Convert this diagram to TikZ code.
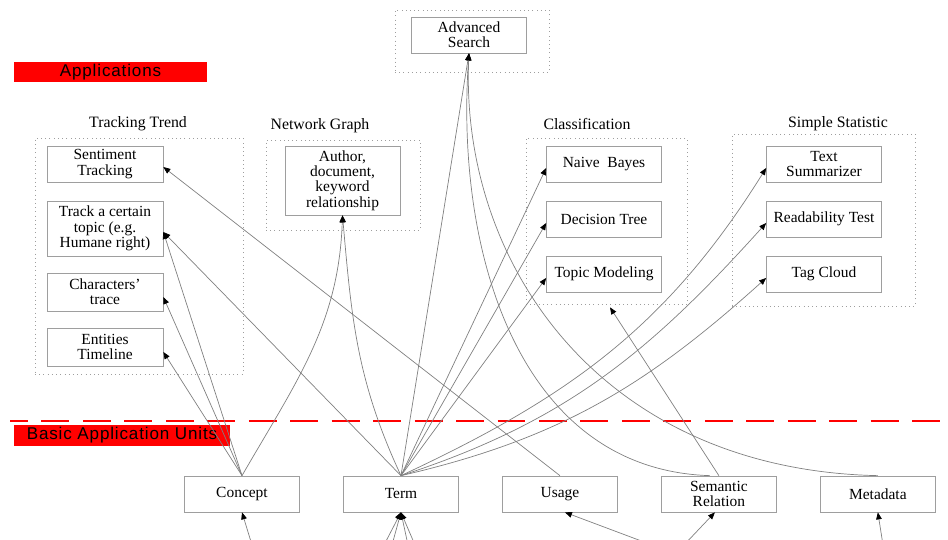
\documentclass[tikz,border=0pt]{standalone}
\usepackage{fontspec}
\setmainfont{Liberation Serif}
\newfontfamily\barfont[LetterSpace=5]{Liberation Sans}
\usetikzlibrary{arrows.meta, positioning}
\definecolor{boxgray}{gray}{0.62}
\definecolor{linegray}{gray}{0.5}

\begin{document}
\begin{tikzpicture}[x=0.02cm, y=-0.02cm, node distance=3.18cm,
  unit node/.style={rectangle, draw=boxgray, minimum width=2.3cm, minimum height=0.72cm, inner sep=1pt, align=center, font=\fontsize{8.8}{8.7}\selectfont},
  group box/.style={rectangle, draw=boxgray, dotted, inner sep=0pt},
  group label/.style={font=\fontsize{9}{10}\selectfont},
  red bar/.style={fill=red, inner sep=0pt, font=\barfont\fontsize{9.7}{11}\selectfont},
  link/.style={draw=linegray, line width=0.4pt, -{Triangle[length=4pt, width=3.2pt, color=black]}}]% pixel grid, y downwards
\useasboundingbox (0,0) rectangle (948,540);

% groups
\node[group box, minimum width=3.08cm, minimum height=1.24cm] (searchbox) at (472,41) {};
\node[group box, minimum width=4.16cm, minimum height=4.72cm] (trend) at (139,256) {};
\node[group box, minimum width=3.08cm, minimum height=1.8cm] (netbox) at (343,185) {};
\node[group box, minimum width=3.22cm, minimum height=3.32cm] (classif) at (606.5,221) {};
\node[group box, minimum width=3.66cm, minimum height=3.44cm] (stat) at (823.5,220) {};
\foreach \s/\x/\y/\l in {trendlabel/138/124/Tracking Trend, netlabel/320/126/Network Graph, classlabel/587/124/Classification, statlabel/838/124/Simple Statistic}
    \node[group label] (\s) at (\x,\y) {\l};

\node[red bar, minimum width=3.86cm, minimum height=0.4cm] (applabel) at (110.5,72) {Applications};
\draw[red, line width=1.7pt, dash pattern=on 15.9pt off 7.7pt, dash phase=5.7pt] (10,421) -- (948,421);
\node[red bar, minimum width=4.32cm, minimum height=0.42cm] (unitlabel) at (122,435.5) {Basic Application Units};

% applications
\node[unit node] (search) at (469,35) {Advanced\\Search};
\node[unit node, minimum width=2.32cm] (sent) at (105,164) {Sentiment\\Tracking};
\node[unit node, minimum width=2.32cm, minimum height=1.1cm] (topic) at (105,228.5) {Track a certain\\topic (e.g.\\Humane right)};
\node[unit node, minimum width=2.32cm, minimum height=0.76cm] (chars) at (105,292) {Characters'\\trace};
\node[unit node, minimum width=2.32cm, minimum height=0.76cm] (ent) at (105,347) {Entities\\Timeline};
\node[unit node, minimum height=1.38cm] (netg) at (342.5,180.5) {Author,\\document,\\keyword\\relationship};
\node[unit node] (naive) at (604,164) {Naive~ Bayes};
\node[unit node] (summ) at (824,164) {Text\\Summarizer};
\tikzset{node distance=1.1cm}
\foreach \s/\t/\l in {dtree/naive/Decision Tree, tmod/dtree/Topic Modeling, read/summ/Readability Test, tag/read/Tag Cloud}{
    \node[unit node] (\s) [below of=\t] {\l};}

% basic units
\tikzset{node distance=3.18cm}
\node[unit node] (concept) at (242,494) {Concept};
\foreach \s/\t/\l in {term/concept/Term, usage/term/Usage, semantic/usage/{Semantic\\Relation}, meta/semantic/Metadata}{
    \node[unit node] (\s) [right of=\t] {\l};}

% links
\draw[link] (concept.north) -- ([yshift=-0.07cm]topic.east);
\draw[link] (concept.north) -- ([yshift=-0.1cm]chars.east);
\draw[link] (concept.north) -- ([yshift=-0.1cm]ent.east);
\draw[link] (concept.north) to[out=60, in=268] (netg.south);
\draw[link] (term.north) to[out=115, in=275] (netg.south);
\draw[link] (term.north) -- ([yshift=-0.07cm]topic.east);
\draw[link] (term.north) -- (search.south);
\foreach \t in {naive, dtree, tmod}
    \draw[link] (term.north) -- ([yshift=-0.08cm]\t.west);
\foreach \t/\o/\i in {summ/25/238, read/18/228, tag/13/222}
    \draw[link] (term.north) to[out=\o, in=\i] ([yshift=-0.08cm]\t.west);
\draw[link] (usage.north) -- ([yshift=-0.06cm]sent.east);
\draw[link] (semantic.north) -- ([xshift=0.07cm, yshift=-0.06cm]classif.south);
\draw[link] ([xshift=-0.18cm]semantic.north) .. controls +(-192,-6) and +(-14,197) .. (search.south);
\draw[link] (meta.north) .. controls +(-280,-6) and +(-9,207) .. (search.south);

% from below the frame
\foreach \c/\x in {c1/252, t1/384, t2/392, t3/408, t4/415, u1/652, s1/684, m1/883}
    \coordinate (\c) at (\x,545);
\draw[link] (c1) -- (concept.south);
\foreach \c in {t1, t2, t3, t4}
    \draw[link] (\c) -- (term.south);
\draw[link] (u1) -- ([xshift=0.1cm]usage.south);
\draw[link] (s1) -- ([xshift=-0.08cm]semantic.south);
\draw[link] (m1) -- (meta.south);
\end{tikzpicture}
\end{document}
